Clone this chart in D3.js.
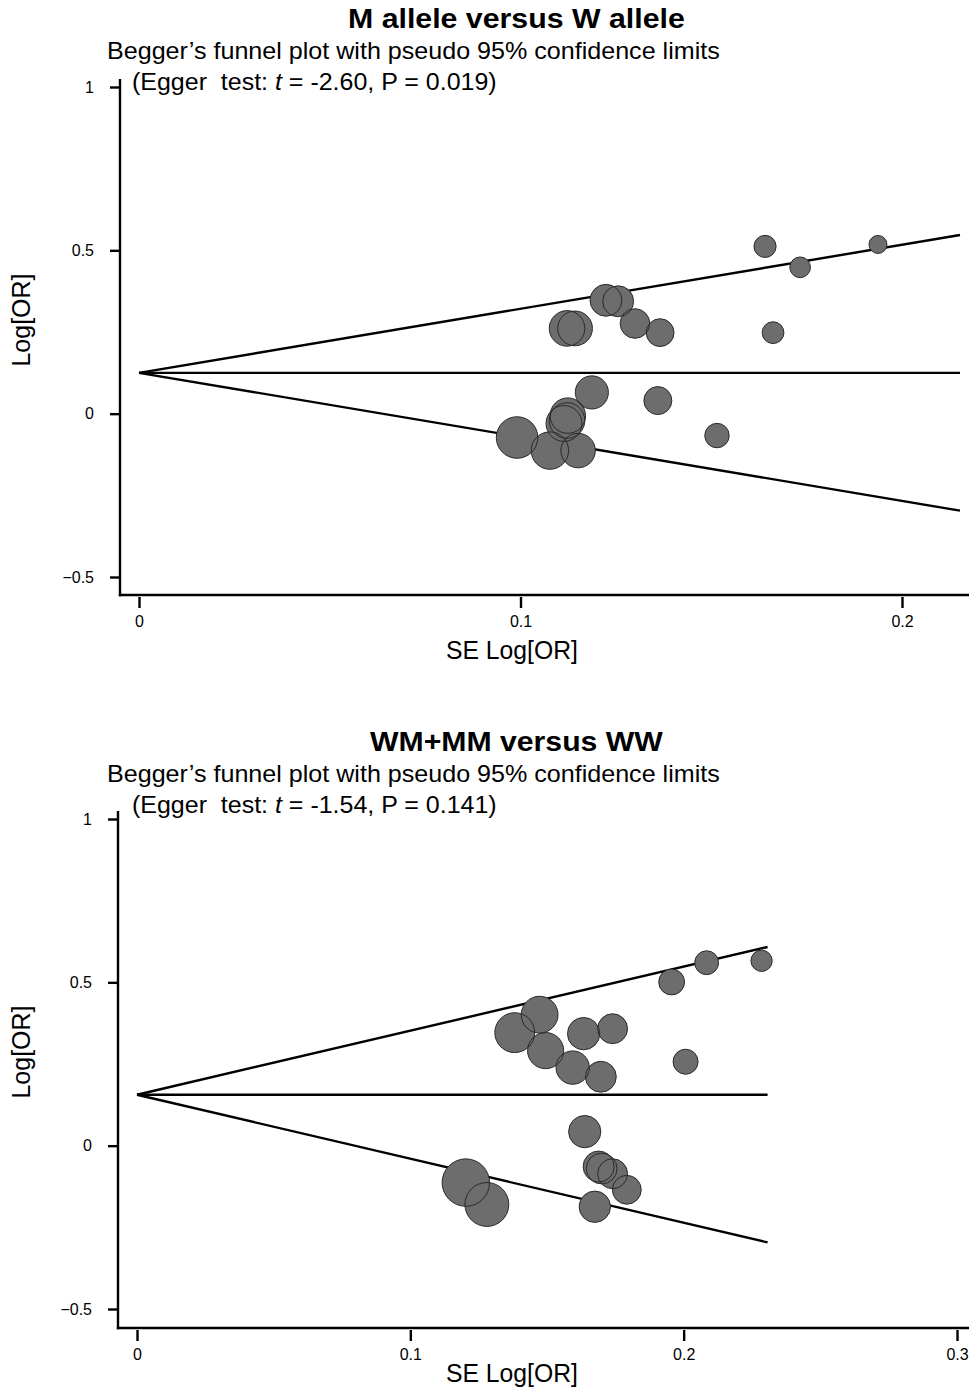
<!DOCTYPE html>
<html>
<head>
<meta charset="utf-8">
<script src="https://cdn.jsdelivr.net/npm/d3@7"></script>
<style>
  html, body { margin: 0; padding: 0; background: #fff; }
  svg { display: block; font-family: "Liberation Sans", Arial, sans-serif; }
</style>
</head>
<body>
<svg id="chart" width="969" height="1390"></svg>
<script>
// ---------- DATA ----------
const titleA = "M allele versus W allele";
const titleB = "WM+MM versus WW";
const subtitle = "Begger\u2019s funnel plot with pseudo 95% confidence limits";
const eggerTA = "-2.60", eggerPA = "0.019";
const eggerTB = "-1.54", eggerPB = "0.141";

// Panel A: SE of log OR and log OR for each study
const seA    = [0.1641, 0.1937, 0.1733, 0.1224, 0.1256, 0.1300, 0.1366, 0.1662, 0.1122, 0.1143,
                0.1187, 0.1360, 0.1515, 0.0991, 0.1077, 0.1151, 0.1124, 0.1122, 0.1114];
const logorA = [0.512, 0.518, 0.448, 0.347, 0.344, 0.276, 0.248, 0.248, 0.261, 0.261,
                0.065, 0.040, -0.067, -0.073, -0.113, -0.113, -0.006, -0.021, -0.030];
const pooledA = 0.125;
const seMaxA = 0.2152;

// Panel B
const seB    = [0.2285, 0.2084, 0.1956, 0.1473, 0.1382, 0.1634, 0.1740, 0.1495, 0.1594, 0.1697,
                0.2007, 0.1638, 0.1689, 0.1700, 0.1740, 0.1792, 0.1675, 0.1203, 0.1280];
const logorB = [0.566, 0.560, 0.501, 0.401, 0.346, 0.343, 0.358, 0.291, 0.239, 0.211,
                0.257, 0.043, -0.064, -0.070, -0.086, -0.135, -0.187, -0.113, -0.180];
const pooledB = 0.156;
const seMaxB = 0.2307;

const xTicksA = [0, 0.1, 0.2];
const xTicksB = [0, 0.1, 0.2, 0.3];
const yTicks = [-0.5, 0, 0.5, 1];
const xLabel = "SE Log[OR]";
const yLabel = "Log[OR]";

// ---------- DRAW ----------
const svg = d3.select("#chart");
const fmt = v => v === 0 ? "0" : (v < 0 ? "\u2212" + Math.abs(v) : String(v));

function fitText(sel, target, x, y) {
  const w = sel.node().getComputedTextLength();
  const s = target / w;
  sel.attr("transform", `translate(${x},${y}) scale(${s},1) translate(${-x},${-y})`);
}

function panel(cfg) {
  const g = svg.append("g");
  const x = d3.scaleLinear().domain(cfg.xDom).range(cfg.xRange);
  const y = d3.scaleLinear().domain([-0.5, 1]).range(cfg.yRange);

  // titles
  const t = g.append("text").attr("x", cfg.titleX).attr("y", cfg.titleY)
    .attr("text-anchor", "start").attr("font-weight", "bold").attr("font-size", 27)
    .text(cfg.title);
  fitText(t, cfg.titleW, cfg.titleX, cfg.titleY);
  const st = g.append("text").attr("x", 107).attr("y", cfg.titleY + 31)
    .attr("font-size", 23).text(subtitle);
  fitText(st, 613, 107, cfg.titleY + 31);
  const eg = g.append("text").attr("x", 132).attr("y", cfg.titleY + 62).attr("font-size", 23);
  eg.append("tspan").text("(Egger\u00a0 test: ");
  eg.append("tspan").attr("font-style", "italic").text("t");
  eg.append("tspan").text(` = ${cfg.eggerT}, P = ${cfg.eggerP})`);
  fitText(eg, 365, 132, cfg.titleY + 62);

  // funnel lines
  const line = d3.line().x(d => x(d[0])).y(d => y(d[1]));
  const z = 1.96;
  const lines = [
    [[0, cfg.pooled], [cfg.seMax, cfg.pooled]],
    [[0, cfg.pooled], [cfg.seMax, cfg.pooled + z * cfg.seMax]],
    [[0, cfg.pooled], [cfg.seMax, cfg.pooled - z * cfg.seMax]]
  ];
  g.selectAll("path.fl").data(lines).join("path").attr("class", "fl")
    .attr("d", line).attr("fill", "none").attr("stroke", "#000").attr("stroke-width", 2.4);

  // points
  const pts = cfg.se.map((s, i) => ({ se: s, lor: cfg.lor[i] }));
  const r = d => cfg.rk * Math.pow(d.se, -1.25);
  g.selectAll("circle.f").data(pts).join("circle").attr("class", "f")
    .attr("cx", d => x(d.se)).attr("cy", d => y(d.lor)).attr("r", r)
    .attr("fill", "#6d6d6d").attr("stroke", "none");
  g.selectAll("circle.o").data(pts).join("circle").attr("class", "o")
    .attr("cx", d => x(d.se)).attr("cy", d => y(d.lor)).attr("r", r)
    .attr("fill", "none").attr("stroke", "#2a2a2a").attr("stroke-width", 1);

  // axes
  const yAxis = d3.axisLeft(y).tickValues(yTicks).tickFormat(fmt).tickSize(10).tickPadding(16);
  const ya = g.append("g").attr("transform", `translate(${cfg.axisX},0)`).call(yAxis);
  ya.select(".domain").remove();
  ya.selectAll(".tick line").attr("stroke", "#000").attr("stroke-width", 2.4);
  ya.selectAll(".tick text").attr("font-size", 16).attr("fill", "#000")
    .attr("font-family", "Liberation Sans, Arial, sans-serif");

  const xAxis = d3.axisBottom(x).tickValues(cfg.xTicks).tickFormat(fmt).tickSize(11).tickPadding(8);
  const xa = g.append("g").attr("transform", `translate(0,${cfg.axisY + 2})`).call(xAxis);
  xa.select(".domain").remove();
  xa.selectAll(".tick line").attr("stroke", "#000").attr("stroke-width", 2.4);
  xa.selectAll(".tick text").attr("font-size", 16).attr("fill", "#000")
    .attr("font-family", "Liberation Sans, Arial, sans-serif");

  g.append("line").attr("x1", cfg.axisX).attr("x2", cfg.axisX)
    .attr("y1", y(1) - 8).attr("y2", cfg.axisY + 1.2)
    .attr("stroke", "#000").attr("stroke-width", 2.4);
  g.append("line").attr("x1", cfg.axisX - 1.2).attr("x2", 969)
    .attr("y1", cfg.axisY).attr("y2", cfg.axisY)
    .attr("stroke", "#000").attr("stroke-width", 2.4);

  // axis titles
  const xl = g.append("text").attr("x", 446).attr("y", cfg.xLabelY)
    .attr("font-size", 25).text(xLabel);
  fitText(xl, 132, 446, cfg.xLabelY);
  const cy = (y(1) + y(-0.5)) / 2 - 12;
  const yl = g.append("text").attr("transform", `translate(30,${cy}) rotate(-90) scale(1.0,1)`)
    .attr("text-anchor", "middle").attr("font-size", 25).text(yLabel);
}

panel({
  title: titleA, titleX: 348, titleY: 28, titleW: 337,
  eggerT: eggerTA, eggerP: eggerPA,
  xDom: [0, 0.2], xRange: [139, 902], yRange: [577, 87],
  axisX: 120, axisY: 595, xTicks: xTicksA, xLabelY: 659,
  se: seA, lor: logorA, pooled: pooledA, seMax: seMaxA, rk: 1.155
});
panel({
  title: titleB, titleX: 370, titleY: 751, titleW: 293,
  eggerT: eggerTB, eggerP: eggerPB,
  xDom: [0, 0.3], xRange: [137, 957], yRange: [1309, 819],
  axisX: 118, axisY: 1328, xTicks: xTicksB, xLabelY: 1382,
  se: seB, lor: logorB, pooled: pooledB, seMax: seMaxB, rk: 1.68
});
</script>
</body>
</html>
